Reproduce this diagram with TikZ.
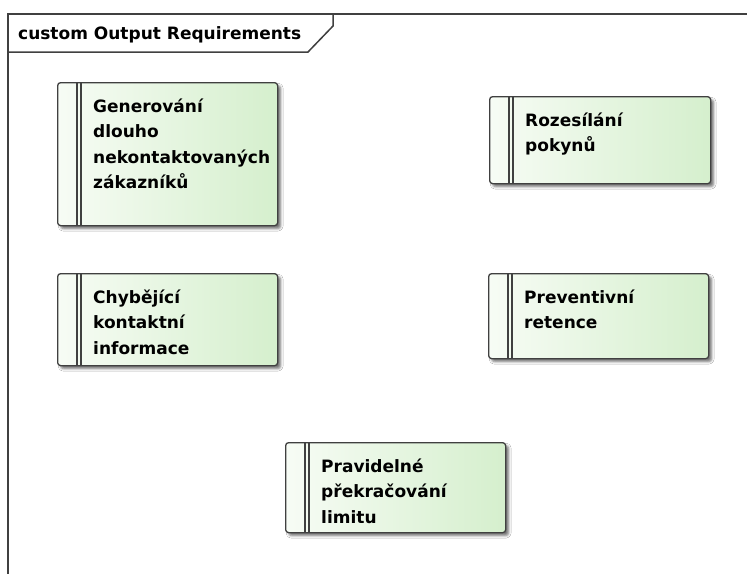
\documentclass[tikz,border=0pt]{standalone}
\usepackage{fontspec}
\newfontfamily\diagfont{DejaVu Sans}
\usetikzlibrary{shadows.blur,calc}

\definecolor{frameline}{RGB}{64,64,64}
\definecolor{reqlight}{RGB}{247,252,245}
\definecolor{reqgreen}{RGB}{213,239,205}

\tikzset{
  framestroke/.style={draw=frameline, line width=2pt},
  reqbox/.style={draw=frameline, line width=1.3pt, rounded corners=3pt,
    left color=reqlight, right color=reqgreen, anchor=north west, inner sep=0pt,
    blur shadow={shadow xshift=3pt, shadow yshift=-3pt,
      shadow blur radius=2.5pt, shadow opacity=55}},
  reqbar/.style={draw=frameline, line width=1.1pt},
  reqtext/.style={anchor=base west, inner sep=0pt, text width=186pt, align=left,
    font=\diagfont\bfseries\fontsize{17}{25.5}\selectfont, text=black},
  titletext/.style={anchor=base west, inner sep=0pt,
    font=\diagfont\bfseries\fontsize{17}{20}\selectfont, text=black},
}

% requirement element: name, left, top, width, height, text
\newcommand\requirement[6]{%
  \node[reqbox, minimum width=#4pt, minimum height=#5pt] (#1) at (#2,#3) {};
  \draw[reqbar] ($(#1.north west)+(20,0)$) -- ($(#1.south west)+(20,0)$);
  \draw[reqbar] ($(#1.north west)+(24,0)$) -- ($(#1.south west)+(24,0)$);
  \node[reqtext] (#1text) at ($(#1.north west)+(36,30)$) {#6};
}

\begin{document}
\begin{tikzpicture}[x=1pt, y=-1pt]
  \fill[white] (0,0) rectangle (747,574);
  \useasboundingbox (0,0) rectangle (747,574);

  % diagram frame with its name tab
  \coordinate (frameTR) at (747,14);
  \coordinate (frameTL) at (8,14);
  \coordinate (frameBL) at (8,574);
  \draw[framestroke] (frameTR) -- (frameTL) -- (frameBL);
  \coordinate (tabA) at (8,52);
  \coordinate (tabB) at (308,52);
  \coordinate (tabC) at (333,26);
  \coordinate (tabD) at (333,14);
  \draw[framestroke, line width=1.5pt] (tabA) -- (tabB) -- (tabC) -- (tabD);
  \node[titletext] (title) at (18,39) {custom Output Requirements};

  % requirements
  \requirement{gen}{57}{82}{220}{143}{Generování\\dlouho\\nekontaktovaných\\zákazníků}
  \requirement{roz}{489}{96}{221}{87}{Rozesílání\\pokynů}
  \requirement{chyb}{57}{273}{220}{92}{Chybějící\\kontaktní\\informace}
  \requirement{prev}{488}{273}{220}{85}{Preventivní\\retence}
  \requirement{prav}{285}{442}{220}{90}{Pravidelné\\překračování\\limitu}
\end{tikzpicture}
\end{document}
